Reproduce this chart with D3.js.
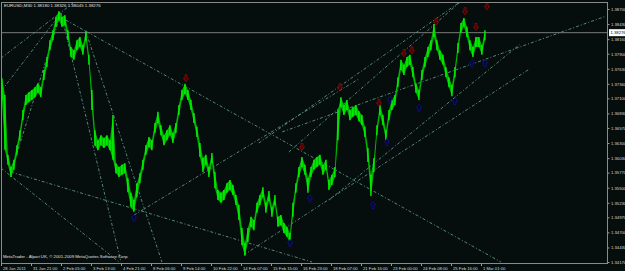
<!DOCTYPE html>
<html>
<head>
<meta charset="utf-8">
<script src="https://cdnjs.cloudflare.com/ajax/libs/d3/7.8.5/d3.min.js"></script>
<style>
  body { margin: 0; background: #060d0d; }
  svg { display: block; }
</style>
</head>
<body>
<svg id="canvas"></svg>
<script>
// ---------------- data ----------------
let symbolInfo = 'EURUSD,M30  1.38180 1.38326 1.38045 1.38276'
let copyright = 'MetaTrader - Alpari UK, \u00a9 2001-2009 MetaQuotes Software Corp.'
let lastPrice = 1.38276

// time axis (trading hours from the first bar)
let timeTickHours = [0, 32, 64, 96, 128, 160, 192, 224, 256, 288, 320, 352, 384, 416, 448, 480, 512]
let timeLabels = ['28 Jan 2011', '31 Jan 21:00', '2 Feb 05:00', '3 Feb 13:00', '4 Feb 21:00', '8 Feb 06:00',
  '9 Feb 14:00', '10 Feb 22:00', '14 Feb 07:00', '15 Feb 15:00', '16 Feb 23:00', '18 Feb 07:00',
  '21 Feb 16:00', '23 Feb 00:00', '24 Feb 08:00', '25 Feb 16:00', '1 Mar 01:00']

let priceTicks = [1.38700, 1.38430, 1.38160, 1.37900, 1.37630, 1.37360, 1.37100, 1.36830, 1.36570,
  1.36300, 1.36030, 1.35770, 1.35500, 1.35230, 1.34970, 1.34700, 1.34430, 1.34170]

// price samples, one every 3.2 trading hours
let sampleStart = 1
let sampleStep = 3.2
let highs = [1.3746, 1.3716, 1.3609, 1.3587, 1.3600, 1.3626, 1.3653, 1.3689, 1.3716, 1.3721,
  1.3725, 1.3730, 1.3737, 1.3730, 1.3761, 1.3784, 1.3814, 1.3832, 1.3856, 1.3866,
  1.3856, 1.3859, 1.3832, 1.3802, 1.3796, 1.3814, 1.3820, 1.3805, 1.3831, 1.3788,
  1.3725, 1.3653, 1.3635, 1.3644, 1.3639, 1.3644, 1.3635, 1.3680, 1.3594, 1.3587,
  1.3591, 1.3594, 1.3567, 1.3541, 1.3528, 1.3558, 1.3576, 1.3600, 1.3626, 1.3641,
  1.3635, 1.3666, 1.3686, 1.3662, 1.3644, 1.3653, 1.3662, 1.3648, 1.3666, 1.3698,
  1.3725, 1.3736, 1.3725, 1.3707, 1.3684, 1.3659, 1.3630, 1.3603, 1.3609, 1.3587,
  1.3612, 1.3578, 1.3546, 1.3541, 1.3546, 1.3558, 1.3564, 1.3555, 1.3537, 1.3519,
  1.3478, 1.3451, 1.3478, 1.3498, 1.3492, 1.3523, 1.3537, 1.3551, 1.3523, 1.3544,
  1.3515, 1.3537, 1.3498, 1.3501, 1.3487, 1.3480, 1.3469, 1.3523, 1.3558, 1.3587,
  1.3605, 1.3591, 1.3567, 1.3587, 1.3600, 1.3605, 1.3609, 1.3591, 1.3600, 1.3564,
  1.3573, 1.3587, 1.3689, 1.3712, 1.3698, 1.3707, 1.3689, 1.3694, 1.3698, 1.3687,
  1.3680, 1.3659, 1.3621, 1.3573, 1.3603, 1.3662, 1.3698, 1.3680, 1.3653, 1.3689,
  1.3707, 1.3716, 1.3748, 1.3779, 1.3770, 1.3784, 1.3788, 1.3766, 1.3737, 1.3725,
  1.3761, 1.3784, 1.3802, 1.3814, 1.3843, 1.3814, 1.3796, 1.3788, 1.3766, 1.3748,
  1.3734, 1.3766, 1.3809, 1.3845, 1.3854, 1.3838, 1.3814, 1.3802, 1.3820, 1.3820,
  1.3805, 1.3832]
let lows = [1.3707, 1.3618, 1.3591, 1.3569, 1.3582, 1.3609, 1.3635, 1.3671, 1.3698, 1.3703,
  1.3707, 1.3712, 1.3720, 1.3712, 1.3743, 1.3766, 1.3796, 1.3814, 1.3838, 1.3850,
  1.3838, 1.3841, 1.3814, 1.3784, 1.3779, 1.3796, 1.3802, 1.3788, 1.3813, 1.3770,
  1.3689, 1.3625, 1.3617, 1.3626, 1.3621, 1.3626, 1.3617, 1.3600, 1.3576, 1.3569,
  1.3573, 1.3576, 1.3542, 1.3515, 1.3507, 1.3533, 1.3558, 1.3582, 1.3609, 1.3623,
  1.3617, 1.3648, 1.3666, 1.3644, 1.3626, 1.3635, 1.3644, 1.3630, 1.3648, 1.3680,
  1.3707, 1.3718, 1.3707, 1.3689, 1.3666, 1.3641, 1.3605, 1.3578, 1.3591, 1.3569,
  1.3594, 1.3549, 1.3528, 1.3523, 1.3528, 1.3541, 1.3546, 1.3537, 1.3519, 1.3492,
  1.3447, 1.3428, 1.3453, 1.3480, 1.3474, 1.3505, 1.3519, 1.3533, 1.3505, 1.3526,
  1.3498, 1.3519, 1.3480, 1.3483, 1.3469, 1.3462, 1.3451, 1.3498, 1.3541, 1.3569,
  1.3587, 1.3573, 1.3541, 1.3569, 1.3582, 1.3587, 1.3591, 1.3573, 1.3582, 1.3546,
  1.3555, 1.3569, 1.3635, 1.3694, 1.3680, 1.3689, 1.3671, 1.3677, 1.3680, 1.3669,
  1.3662, 1.3641, 1.3596, 1.3535, 1.3578, 1.3644, 1.3680, 1.3662, 1.3635, 1.3671,
  1.3689, 1.3698, 1.3730, 1.3761, 1.3752, 1.3766, 1.3770, 1.3748, 1.3720, 1.3707,
  1.3743, 1.3766, 1.3784, 1.3796, 1.3820, 1.3796, 1.3779, 1.3770, 1.3748, 1.3730,
  1.3714, 1.3748, 1.3791, 1.3827, 1.3838, 1.3820, 1.3796, 1.3784, 1.3802, 1.3802,
  1.3788, 1.3814]

// fractal arrows [hour, price]
let upFractals = [[197.3, 1.3746], [321.1, 1.3623], [361.6, 1.3730], [403.2, 1.3702], [429.9, 1.3791],
  [438.4, 1.3796], [464.0, 1.3847], [494.9, 1.3866], [506.7, 1.3838], [518.4, 1.3875]]
let downFractals = [[141.9, 1.3496], [308.3, 1.3451], [329.6, 1.3531], [396.8, 1.3519], [411.7, 1.3632],
  [414.9, 1.3707], [445.9, 1.3693], [484.3, 1.3705], [502.4, 1.3773], [516.3, 1.3773]]

// trend lines [hour1, price1, hour2, price2]
let trendLines = [
  [0, 1.3782, 77.9, 1.3882],
  [1.1, 1.3725, 64, 1.3863],
  [10.7, 1.3578, 64, 1.3863],
  [69.3, 1.3850, 533.3, 1.3417],
  [64, 1.3863, 128, 1.3417],
  [90.7, 1.3829, 171.7, 1.3417],
  [10.7, 1.3578, 331.7, 1.3417],
  [0, 1.3585, 125.9, 1.3417],
  [141.9, 1.3501, 382, 1.3745],
  [259.2, 1.3430, 563.2, 1.3762],
  [275, 1.3630, 489, 1.3882],
  [307, 1.3614, 499, 1.3896],
  [350, 1.3528, 553, 1.3806],
  [300, 1.3650, 645, 1.3857]
]

// ---------------- layout ----------------
let width = 625
let height = 271
let plotLeft = 1
let plotRight = 607
let plotTop = 2
let plotBottom = 263

let canvas = d3.select('#canvas').attr('width', width).attr('height', height)

let xScale = d3.scaleLinear()
  .domain([0, (plotRight - plotLeft) * 32 / 30])
  .range([plotLeft, plotRight])

let yScale = d3.scaleLinear()
  .domain([1.34170, 1.38700])
  .range([262, 9])

canvas.append('rect').attr('width', width).attr('height', height).attr('fill', '#060d0d')

canvas.append('clipPath').attr('id', 'clip')
  .append('rect').attr('x', plotLeft).attr('y', plotTop)
  .attr('width', plotRight - plotLeft).attr('height', plotBottom - plotTop)
let plot = canvas.append('g').attr('clip-path', 'url(#clip)')

// current price line
plot.append('line')
  .attr('x1', plotLeft).attr('x2', plotRight)
  .attr('y1', yScale(lastPrice)).attr('y2', yScale(lastPrice))
  .attr('stroke', '#7a7a7a').attr('stroke-width', 1)

// trend lines
plot.selectAll('.trend')
  .data(trendLines)
  .enter()
  .append('line')
  .attr('class', 'trend')
  .attr('x1', d => xScale(d[0])).attr('y1', d => yScale(d[1]))
  .attr('x2', d => xScale(d[2])).attr('y2', d => yScale(d[3]))
  .attr('stroke', '#5a9684')
  .attr('stroke-width', 0.9)
  .attr('stroke-dasharray', '3,2,1,2')

// price bars
let samples = highs.map((h, i) => ({ t: sampleStart + i * sampleStep, hi: h, lo: lows[i] }))

let band = d3.area()
  .x(d => xScale(d.t))
  .y0(d => yScale(d.lo))
  .y1(d => yScale(d.hi))

plot.append('path')
  .datum(samples)
  .attr('d', band)
  .attr('fill', '#00b400')

plot.selectAll('.bar')
  .data(samples)
  .enter()
  .append('line')
  .attr('class', 'bar')
  .attr('x1', d => xScale(d.t)).attr('x2', d => xScale(d.t))
  .attr('y1', d => yScale(d.hi)).attr('y2', d => yScale(d.lo))
  .attr('stroke', '#00ff00').attr('stroke-width', 1.3)

// fractal arrows
let downArrow = 'M-1,-3.5 L1,-3.5 L1,0 L2.6,0 L0,3.5 L-2.6,0 L-1,0 Z'
let upArrow = 'M-1,3.5 L1,3.5 L1,0 L2.6,0 L0,-3.5 L-2.6,0 L-1,0 Z'

plot.selectAll('.upf')
  .data(upFractals)
  .enter()
  .append('path')
  .attr('class', 'upf')
  .attr('transform', d => 'translate(' + xScale(d[0]) + ',' + yScale(d[1]) + ')')
  .attr('d', downArrow)
  .attr('fill', '#3c0000')
  .attr('stroke', '#a00c0c')
  .attr('stroke-width', 0.7)

plot.selectAll('.dnf')
  .data(downFractals)
  .enter()
  .append('path')
  .attr('class', 'dnf')
  .attr('transform', d => 'translate(' + xScale(d[0]) + ',' + yScale(d[1]) + ')')
  .attr('d', upArrow)
  .attr('fill', '#00003a')
  .attr('stroke', '#16168e')
  .attr('stroke-width', 0.7)

// frame
canvas.append('rect')
  .attr('x', plotLeft + 0.5).attr('y', plotTop + 0.5)
  .attr('width', plotRight - plotLeft).attr('height', plotBottom - plotTop)
  .attr('fill', 'none').attr('stroke', '#8a8a8a').attr('stroke-width', 1)

// price axis
let yAxis = d3.axisRight(yScale)
  .tickValues(priceTicks)
  .tickSize(2)
  .tickPadding(1.5)
  .tickFormat(d3.format('.5f'))

canvas.append('g')
  .attr('transform', 'translate(' + (plotRight + 0.5) + ',0)')
  .call(yAxis)
  .call(g => g.select('.domain').remove())
  .call(g => g.selectAll('line').attr('stroke', '#9a9a9a'))
  .call(g => g.selectAll('text')
    .attr('fill', '#d8d8d8')
    .attr('font-family', 'Liberation Sans')
    .attr('font-size', 4.2))

// current price tag
let tag = canvas.append('g').attr('transform', 'translate(' + (plotRight + 2) + ',' + yScale(lastPrice) + ')')
tag.append('rect').attr('x', 0).attr('y', -3.5).attr('width', 18).attr('height', 7).attr('fill', '#ffffff')
tag.append('text').attr('x', 1.5).attr('y', 1.5)
  .attr('font-family', 'Liberation Sans').attr('font-size', 4.2).attr('fill', '#000')
  .text(d3.format('.5f')(lastPrice))

// time axis
let xAxis = d3.axisBottom(xScale)
  .tickValues(timeTickHours)
  .tickSize(2.5)
  .tickFormat((d, i) => timeLabels[i])

canvas.append('g')
  .attr('transform', 'translate(0,' + (plotBottom + 0.5) + ')')
  .call(xAxis)
  .call(g => g.select('.domain').remove())
  .call(g => g.selectAll('line').attr('stroke', '#9a9a9a'))
  .call(g => g.selectAll('text')
    .attr('text-anchor', 'start')
    .attr('x', 1.5)
    .attr('dy', '0.2em')
    .attr('fill', '#d8d8d8')
    .attr('font-family', 'Liberation Sans')
    .attr('font-size', 4.2))

// texts
canvas.append('text')
  .attr('x', 4).attr('y', 7)
  .attr('font-family', 'Liberation Sans').attr('font-size', 4.4)
  .attr('fill', '#e0e0e0')
  .text(symbolInfo)

canvas.append('text')
  .attr('x', 3).attr('y', 258)
  .attr('font-family', 'Liberation Sans').attr('font-size', 4.3)
  .attr('fill', '#e0e0e0')
  .text(copyright)
</script>
</body>
</html>
